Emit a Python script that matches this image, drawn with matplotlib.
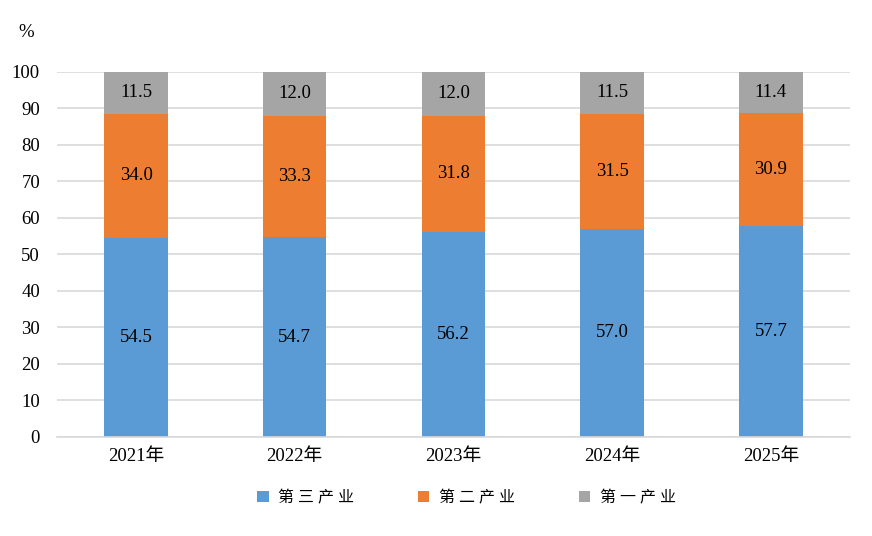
import matplotlib
matplotlib.use("Agg")
import matplotlib.pyplot as plt
import numpy as np

years = ["2021年", "2022年", "2023年", "2024年", "2025年"]
tertiary = [54.5, 54.7, 56.2, 57.0, 57.7]
secondary = [34.0, 33.3, 31.8, 31.5, 30.9]
primary = [11.5, 12.0, 12.0, 11.5, 11.4]
names = ["第 三 产 业", "第 二 产 业", "第 一 产 业"]
colors = ["#5b9bd5", "#ed7d31", "#a5a5a5"]

plt.rcParams['font.family'] = ['Liberation Serif', 'Noto Sans CJK SC']

fig = plt.figure(figsize=(8.72, 5.36), dpi=100)
ax = fig.add_axes([0.065, 0.185, 0.91, 0.681])

x = np.arange(len(years))
bottom = np.zeros(len(years))
for vals, name, c in zip([tertiary, secondary, primary], names, colors):
    bars = ax.bar(x, vals, 0.4, bottom=bottom, color=c, label=name, zorder=2)
    for b, v, bt in zip(bars, vals, bottom):
        ax.text(b.get_x() + b.get_width() / 2, bt + v / 2, f"{v:.1f}",
                ha='center', va='center', fontsize=13.5, color='black', zorder=3)
    bottom = bottom + np.array(vals)

ax.set_xlim(-0.5, len(years) - 0.5)
ax.set_ylim(0, 100)
ax.set_yticks(range(0, 101, 10))
ax.set_xticks(x)
ax.set_xticklabels(years)
ax.tick_params(axis='both', length=0, labelsize=13.5)
ax.tick_params(axis='x', pad=8)
ax.tick_params(axis='y', pad=12)
ax.yaxis.grid(True, color='#d9d9d9', linewidth=1.2, zorder=0)
for s in ['top', 'right', 'left']:
    ax.spines[s].set_visible(False)
ax.spines['bottom'].set_color('#d9d9d9')
ax.spines['bottom'].set_linewidth(1.2)

fig.text(0.03, 0.94, "%", fontsize=13.5, ha='center', va='center')

leg = fig.legend(loc='center', bbox_to_anchor=(0.535, 0.07), ncol=3, frameon=False,
                 fontsize=11.5, handlelength=0.7, handleheight=0.7,
                 columnspacing=4.0, handletextpad=0.6)

fig.savefig("out.png", dpi=100)
